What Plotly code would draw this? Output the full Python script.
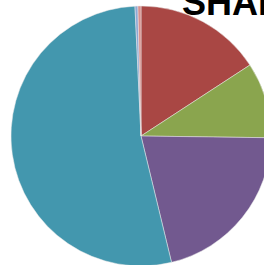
import plotly.graph_objects as go

labels = ["Red", "Green", "Purple", "Teal", "Light blue", "Light red"]
values = [15.8, 9.4, 21.0, 53.0, 0.36, 0.38]
colors = ["#A94744", "#8AA54E", "#72598F", "#4397AE", "#8FA8D4", "#D8918E"]
title_text = "SHARE"

W, H = 300, 300
fig = go.Figure(go.Pie(
    labels=labels, values=values, sort=False, direction="clockwise", rotation=0,
    textinfo="none", hoverinfo="label+percent",
    marker=dict(colors=colors, line=dict(color="#e8e8e8", width=0.5)),
    domain=dict(x=[11 / W, 271 / W], y=[1 - 266 / H, 1 - 6 / H]),
))
fig.add_annotation(
    text="<b>" + title_text + "</b>", xref="paper", yref="paper",
    x=180 / W, y=1 - 25 / H, xanchor="left", yanchor="bottom", showarrow=False,
    font=dict(family="Liberation Sans, Arial, sans-serif", size=36, color="#000000"),
)
fig.update_layout(width=W, height=H, margin=dict(l=0, r=0, t=0, b=0),
                  paper_bgcolor="white", plot_bgcolor="white", showlegend=False)
fig.write_html("out.html", config={"displayModeBar": False},
               post_script="document.body.style.margin='0';")
